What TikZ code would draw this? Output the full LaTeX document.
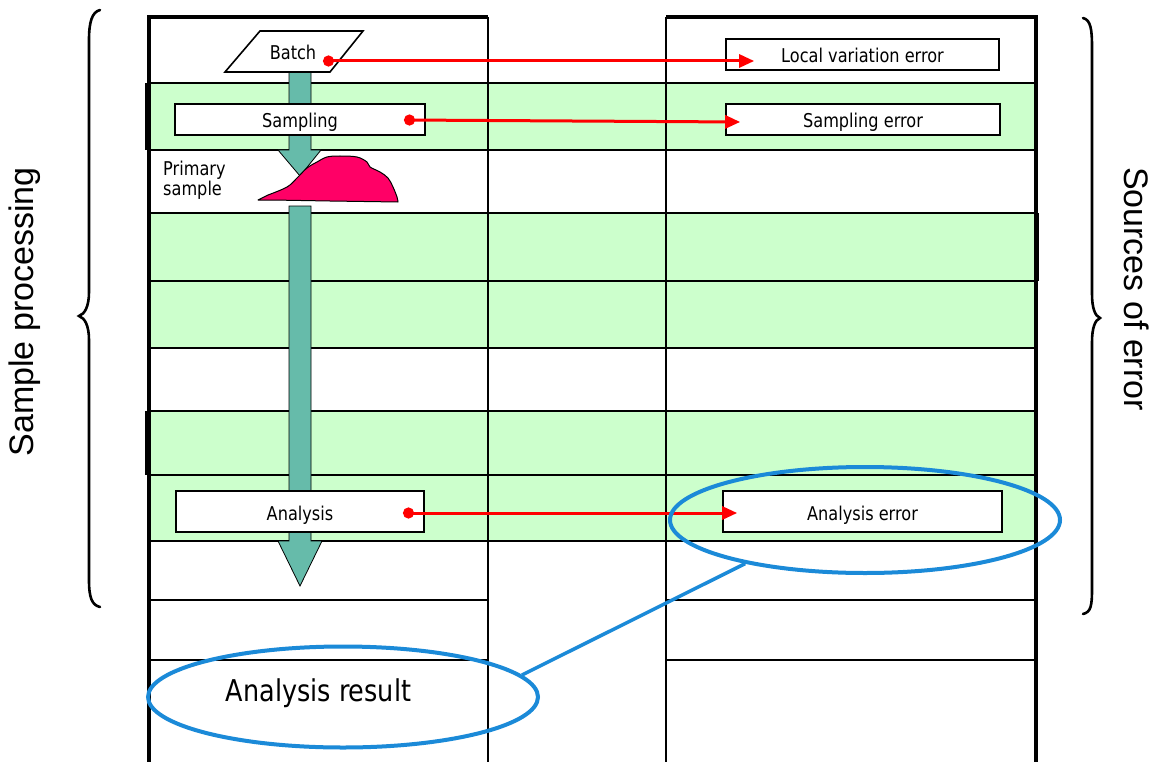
\documentclass[tikz,border=0pt]{standalone}
\usepackage{fontspec}
\setmainfont{DejaVu Sans}
\newfontfamily\tahfont[FakeStretch=0.85]{DejaVu Sans}
\newfontfamily\arifont{Liberation Sans}
\usetikzlibrary{arrows.meta,shapes.geometric,calc}
\definecolor{rowgreen}{HTML}{CCFFCC}
\definecolor{flowteal}{HTML}{66BBAA}
\definecolor{blobpink}{HTML}{FF0066}
\definecolor{errred}{HTML}{FF0000}
\definecolor{ringblue}{HTML}{1B8AD8}
\tikzset{
  gridline/.style={draw=black, line width=2pt},
  outerline/.style={draw=black, line width=3.4pt},
  flowarrow/.style={fill=flowteal, draw=black, line width=0.8pt, line join=miter},
  procbox/.style={draw=black, fill=white, line width=1.7pt, inner sep=0pt, text height=17pt, text depth=0pt, font=\tahfont\fontsize{19}{22}\selectfont},
  labeltext/.style={inner sep=0pt, font=\tahfont\fontsize{19}{22}\selectfont},
  redarrow/.style={draw=errred, line width=3pt, {Circle[length=11pt]}-{Triangle[length=15pt,width=13pt]}},
  ring/.style={ellipse, draw=ringblue, line width=4pt, inner sep=0pt},
  ringlink/.style={draw=ringblue, line width=3.5pt},
  bracepath/.style={draw=black, line width=2.6pt, line cap=round},
  sidetext/.style={inner sep=0pt, font=\arifont\fontsize{34}{40}\selectfont}
}
\begin{document}
\begin{tikzpicture}[x=1pt,y=-1pt]
\useasboundingbox (0,0) rectangle (1155,762);
\fill[white] (0,0) rectangle (1155,762);
% green rows
\foreach \a/\b in {83/150,213/281,281/348,411/475,475/541}
  \fill[rowgreen] (149,\a) rectangle (1036,\b);
% horizontal grid lines
\foreach \yy in {83,150,213,281,348,411,475,541}
  \draw[gridline] (149,\yy) -- (1036,\yy);
\foreach \yy in {600,660} {
  \draw[gridline] (149,\yy) -- (488,\yy);
  \draw[gridline] (666,\yy) -- (1036,\yy);
}
% vertical lines
\draw[gridline] (488,17) -- (488,762);
\draw[gridline] (666,17) -- (666,762);
\draw[outerline] (149,17) -- (149,762);
\draw[outerline] (1036,17) -- (1036,762);
\draw[outerline] (147.3,17) -- (488,17);
\draw[outerline] (666,17) -- (1037.7,17);
\draw[line width=4.5pt] (147,83) -- (147,150);
\draw[line width=4.5pt] (147,411) -- (147,475);
\draw[line width=4.5pt] (1037,213) -- (1037,281);
% teal flow arrows
\draw[flowarrow] (289,72) -- (311,72) -- (311,150) -- (321,150) -- (300,176) -- (278,150) -- (289,150) -- cycle;
\draw[flowarrow] (289,206) -- (311,206) -- (311,541) -- (322,541) -- (300,586) -- (278,541) -- (289,541) -- cycle;
% batch parallelogram
\draw[draw=black, fill=white, line width=1.6pt] (260,31) -- (363,31) -- (330,72) -- (225,72) -- cycle;
\node[labeltext, anchor=base] (batch) at (293,59.5) {Batch};
% process boxes
\node[procbox, minimum width=250pt, minimum height=31pt] (samp) at (300,119.5) {Sampling};
\node[procbox, minimum width=248pt, minimum height=41pt] (anal) at (300,511.5) {Analysis};
% error boxes
\node[procbox, minimum width=273pt, minimum height=31pt] (lve) at (862.5,54.5) {Local variation error};
\node[procbox, minimum width=274pt, minimum height=31pt] (samperr) at (863,119.5) {Sampling error};
\node[procbox, minimum width=279pt, minimum height=41pt] (analerr) at (862.5,511.5) {Analysis error};
% primary sample
\node[labeltext, anchor=base west] (prim1) at (163,175.5) {Primary};
\node[labeltext, anchor=base west] (prim2) at (163,195.5) {sample};
\filldraw[fill=blobpink, draw=black, line width=1pt, line join=round]
  (258,200) -- (268,195) -- plot[smooth, tension=0.6] coordinates {(268,195) (287,187) (297,178) (307,168) (317,162) (327,157) (340,156) (357,157) (367,162) (370,167) (380,172) (388,178) (393,187) (397,197) (398,202)} -- (330,201) -- (272,200) -- cycle;
% red connectors
\coordinate (batchdot) at (323,61);
\coordinate (sampdot) at (404,120);
\coordinate (analdot) at (403,513);
\draw[redarrow] (batchdot) -- ($(batchdot -| lve.west)+(29,0)$);
\draw[redarrow] (sampdot) -- ($(samperr.west)+(15,2.5)$);
\draw[redarrow] (analdot) -- ($(analdot -| analerr.west)+(15,0)$);
% blue rings
\node[ring, minimum width=390pt, minimum height=106pt] (errring) at (865,520) {};
\node[ring, minimum width=390pt, minimum height=101pt] (resring) at (343,697) {};
\node[inner sep=0pt, anchor=base, font=\tahfont\fontsize{30}{34}\selectfont] (result) at (318.5,701) {Analysis result};
\draw[ringlink] (errring.200) -- (resring.7);
% braces
\draw[bracepath] (100,10) .. controls (92,12) and (89,22) .. (89,40) -- (89,292)
  .. controls (89,306) and (85,314) .. (79,316) .. controls (85,318) and (89,326) .. (89,340)
  -- (89,580) .. controls (89,598) and (92,605) .. (100,607);
\draw[bracepath] (1083,18) .. controls (1091,20) and (1092,30) .. (1092,48) -- (1092,294)
  .. controls (1092,308) and (1095,316) .. (1100,318) .. controls (1095,320) and (1092,328) .. (1092,342)
  -- (1092,588) .. controls (1092,606) and (1091,612) .. (1083,614);
\node[sidetext, rotate=90] (sp) at (25,312) {Sample processing};
\node[sidetext, rotate=-90] (se) at (1137,289) {Sources of error};
\end{tikzpicture}
\end{document}
